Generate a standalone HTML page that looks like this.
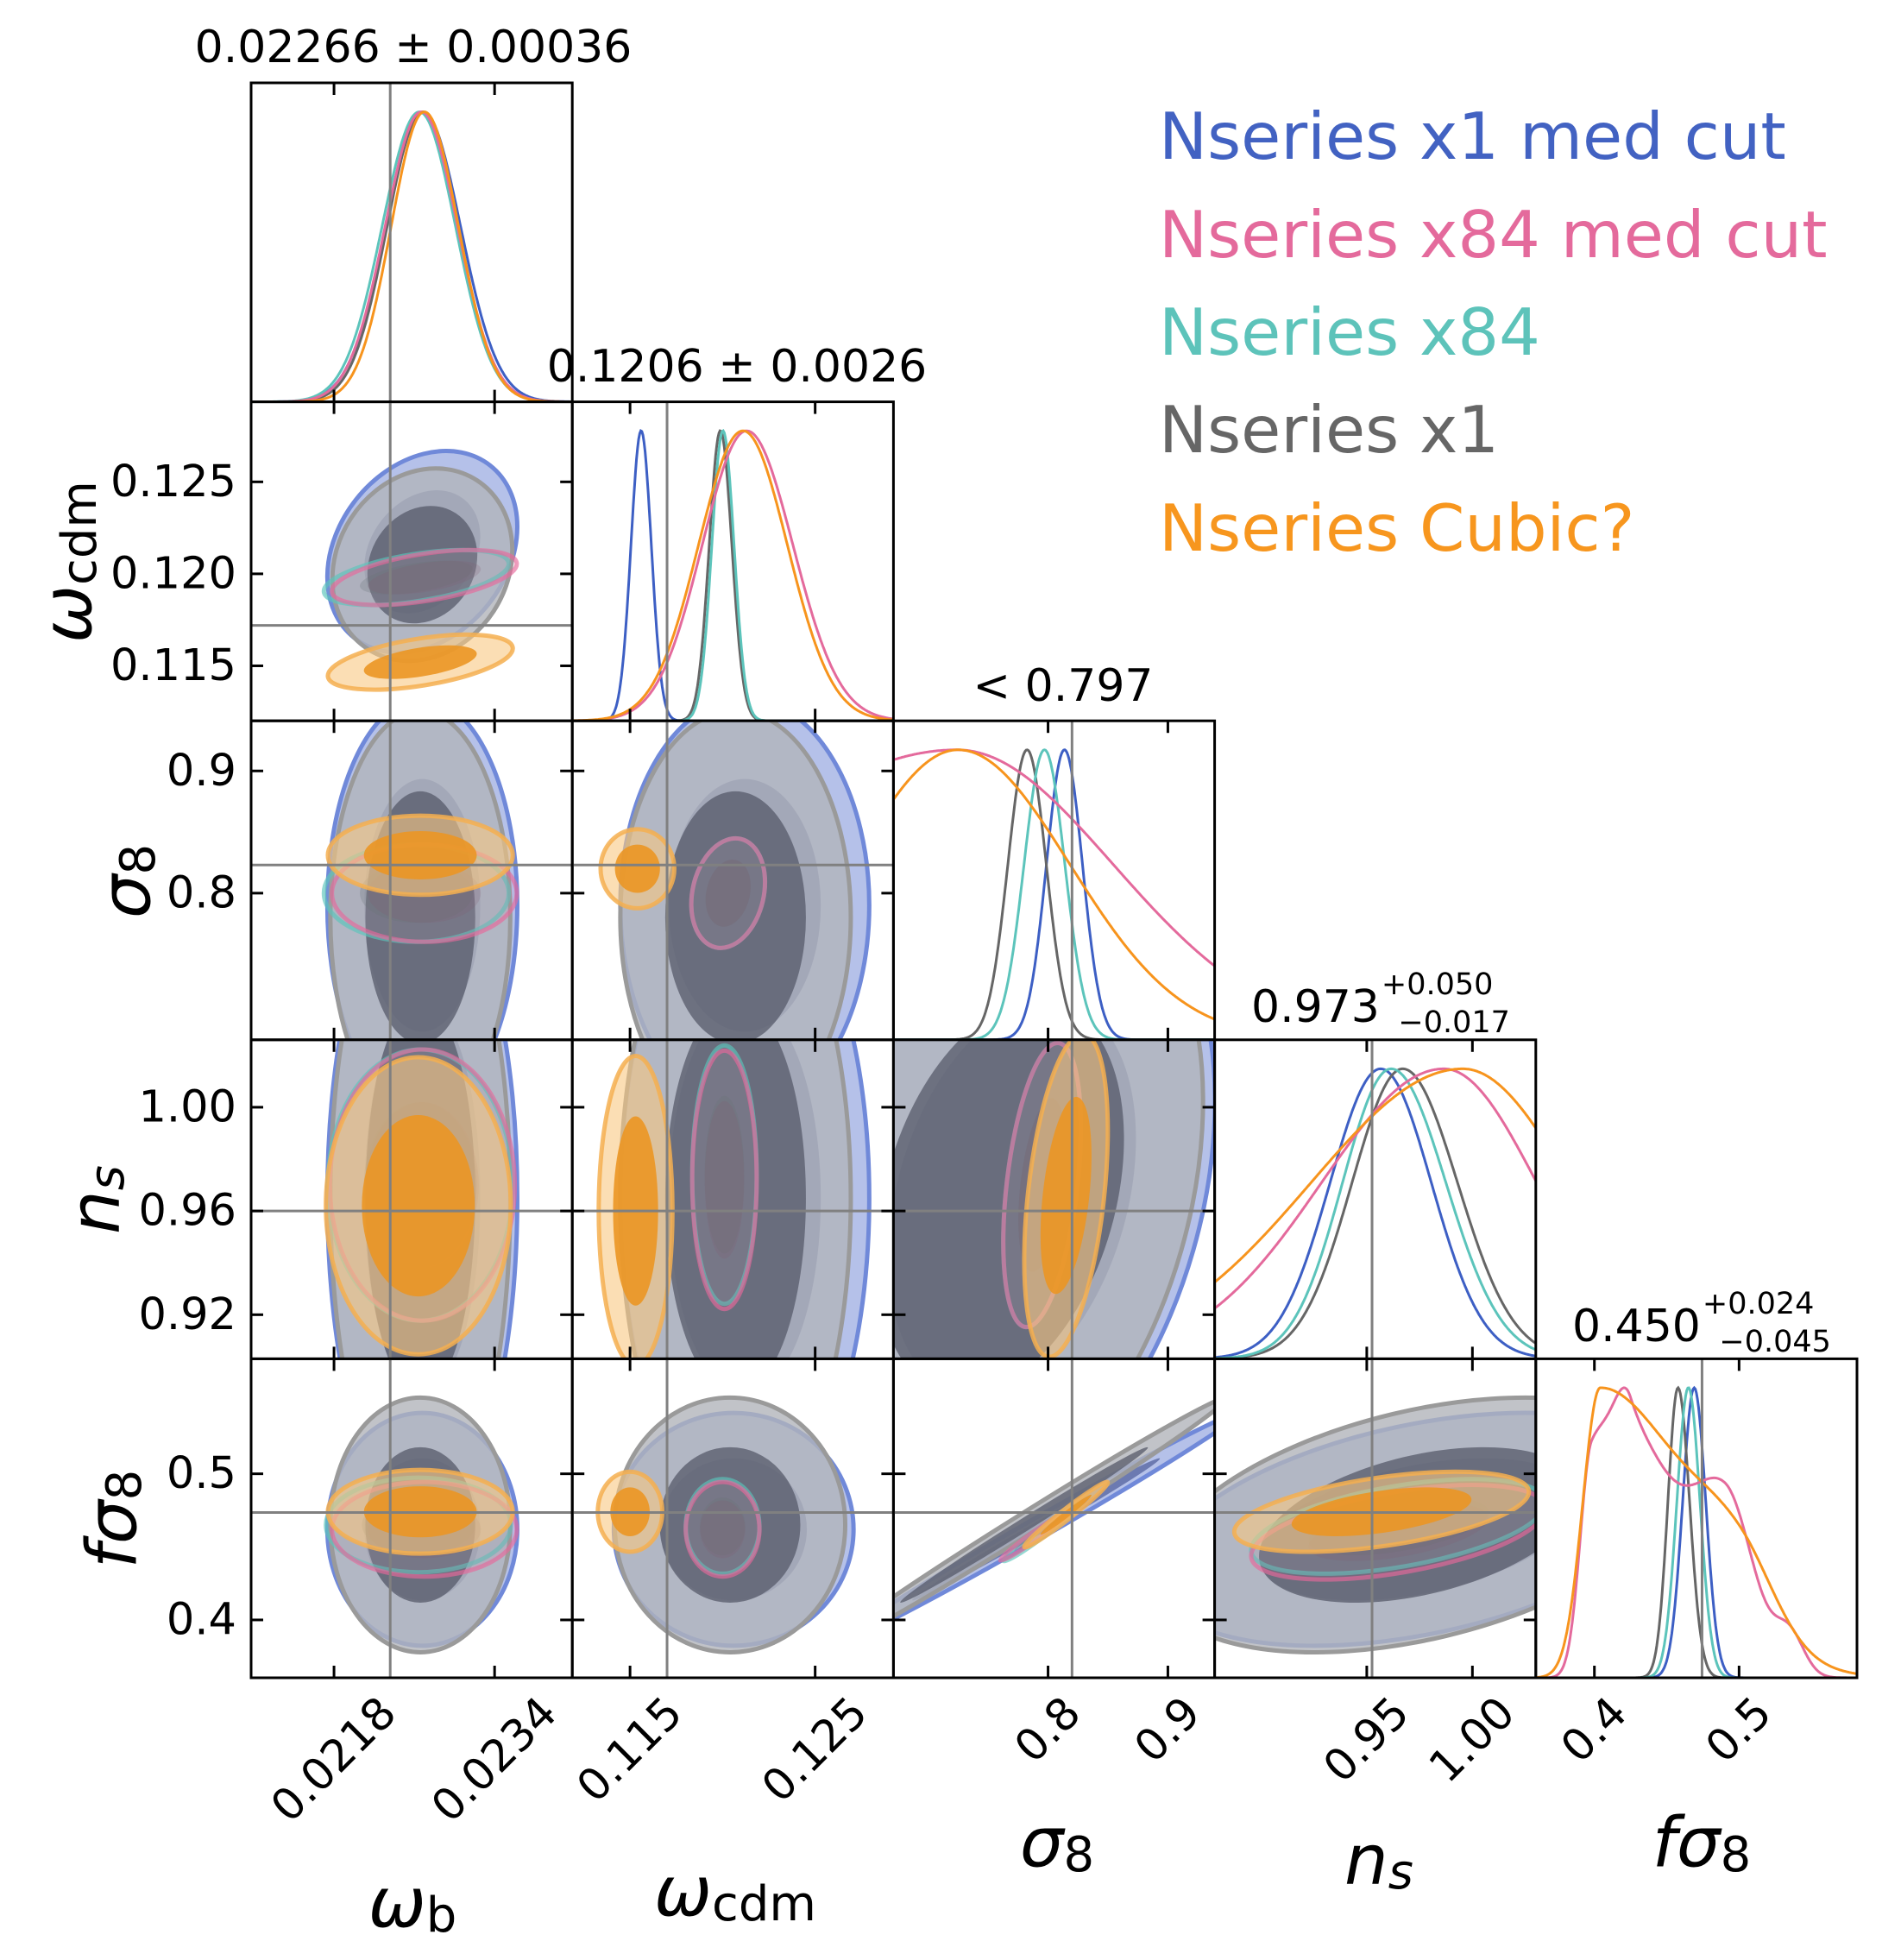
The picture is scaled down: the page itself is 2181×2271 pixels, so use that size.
<!DOCTYPE html>
<html><head><meta charset="utf-8">
<style>
html,body{margin:0;padding:0;background:#fff;}
svg{display:block;font-family:"DejaVu Sans","Liberation Sans",sans-serif;}
</style></head>
<body>
<svg id="fig" width="2181" height="2271" viewBox="0 0 2181 2271" xmlns="http://www.w3.org/2000/svg">
<rect width="2181" height="2271" fill="#fff"/>
<g id="legend" font-size="75">
<text x="1343" y="184" fill="#4262c2">Nseries x1 med cut</text>
<text x="1343" y="298" fill="#e46a9c">Nseries x84 med cut</text>
<text x="1343" y="411" fill="#5dc3ba">Nseries x84</text>
<text x="1343" y="524" fill="#666">Nseries x1</text>
<text x="1343" y="638" fill="#f7961e">Nseries Cubic?</text>
</g>
<g font-size="52">
<text x="479" y="72" text-anchor="middle">0.02266 ± 0.00036</text>
<text x="854" y="442" text-anchor="middle">0.1206 ± 0.0026</text>
<text x="1232" y="812" text-anchor="middle">&lt; 0.797</text>
<text x="1450" y="1184">0.973<tspan font-size="35" dx="2" dy="-32">+0.050</tspan><tspan font-size="35" dx="-110" dy="44">−0.017</tspan></text>
<text x="1822" y="1554">0.450<tspan font-size="35" dx="2" dy="-32">+0.024</tspan><tspan font-size="35" dx="-110" dy="44">−0.045</tspan></text>
</g>
<g id="plots"></g>
<g id="labels" font-style="italic" font-size="80"></g>
</svg>
<script>
const NS="http://www.w3.org/2000/svg";
// ---- data ----
const paramNames=["omega-b","omega-cdm","sigma8","ns","fsigma8"];
const xRanges=[[0.020974,0.024174],[0.11188,0.12923],[0.671,0.939],[0.878,1.030],[0.3595,0.5815]];
const yRanges=[[0.020974,0.024174],[0.11201,0.12935],[0.680,0.941],[0.903,1.026],[0.3604,0.5787]];
const xTicks=[[0.0218,0.0234],[0.115,0.125],[0.8,0.9],[0.95,1.00],[0.4,0.5]];
const xTickLabels=[["0.0218","0.0234"],["0.115","0.125"],["0.8","0.9"],["0.95","1.00"],["0.4","0.5"]];
const yTicks=[[],[0.115,0.120,0.125],[0.8,0.9],[0.92,0.96,1.00],[0.4,0.5]];
const yTickLabels=[[],["0.115","0.120","0.125"],["0.8","0.9"],["0.92","0.96","1.00"],["0.4","0.5"]];
const truthX=[0.02236,0.1170,0.82,0.9525,0.4744];
const truthY=[0.02236,0.1172,0.823,0.96,0.4735];
const seriesNames=["blue","gray","teal","pink","orange"];
// 1D marginals: components [mean, sdLeft, sdRight, amp]
const m1dBlue=[[[.02269,.00037,.00037,1]],[[.1156,.00055,.00055,1]],[[.8137,.015,.015,1]],[[.9566,.024,.024,1]],[[.469,.008,.008,1]]];
const m1dGray=[[[.02268,.00035,.00035,1]],[[.11988,.0006,.00062,1]],[[.7825,.016,.016,1]],[[.967,.024,.026,1]],[[.4578,.007,.008,1]]];
const m1dTeal=[[[.02265,.00037,.00036,1]],[[.12002,.0006,.0006,1]],[[.797,.017,.017,1]],[[.9615,.023,.026,1]],[[.465,.008,.008,1]]];
const m1dPink=[[[.02267,.00036,.00036,1]],[[.1213,.0024,.0025,1]],[[.724,.2,.13,1]],[[.9865,.058,.044,1]],[[.398,.008,.015,.85],[.425,.012,.028,.9],[.49,.025,.02,.7],[.535,.01,.01,.15]]];
const m1dOrange=[[[.02270,.00033,.00034,1]],[[.1211,.0024,.0024,1]],[[.725,.088,.093,1]],[[.9955,.072,.051,1]],[[.404,.012,.06,1],[.50,.03,.025,.25]]];
// 2D: key "row,col" -> per series [cx, cy, sx, sy, rho]
const c2dBlue={"1,0":[.02268,.1212,.00038,.0022,.25],"2,0":[.02268,.79,.00038,.068,0],"3,0":[.02268,.965,.00038,.05,0],"4,0":[.02268,.462,.00038,.032,0],"2,1":[.1212,.79,.0027,.068,0],"3,1":[.1212,.965,.0027,.05,0],"4,1":[.1206,.462,.0026,.032,0],"3,2":[.77,.965,.068,.05,.3],"4,2":[.79,.462,.068,.032,.995],"4,3":[.975,.462,.05,.032,.4]};
const c2dGray={"1,0":[.02268,.1205,.00036,.0021,.15],"2,0":[.02266,.78,.00036,.068,0],"3,0":[.02266,.965,.00036,.05,0],"4,0":[.02266,.465,.00036,.035,0],"2,1":[.1207,.78,.0025,.068,0],"3,1":[.1207,.965,.0025,.05,0],"4,1":[.1204,.465,.0025,.035,0],"3,2":[.76,.965,.068,.05,.3],"4,2":[.78,.465,.068,.035,.995],"4,3":[.975,.465,.05,.035,.4]};
const c2dTeal={"1,0":[.02262,.1198,.00037,.0006,.5],"2,0":[.02262,.80,.00037,.016,0],"3,0":[.02266,.97,.00037,.021,0],"4,0":[.02264,.465,.00037,.013,0],"2,1":[.1203,.80,.0008,.018,.2],"3,1":[.1201,.974,.0007,.02,0],"4,1":[.1200,.464,.0008,.013,0],"3,2":[.795,.97,.013,.022,.4],"4,2":[.795,.46,.013,.008,.98],"4,3":[.965,.464,.028,.013,.5]};
const c2dPink={"1,0":[.02270,.1198,.00037,.0006,.5],"2,0":[.02270,.80,.00037,.016,0],"3,0":[.02268,.97,.00037,.021,0],"4,0":[.02270,.462,.00037,.013,0],"2,1":[.1203,.80,.0008,.018,.2],"3,1":[.1201,.972,.0007,.02,0],"4,1":[.1200,.462,.0008,.013,0],"3,2":[.795,.97,.013,.022,.4],"4,2":[.79,.458,.012,.007,.98],"4,3":[.965,.460,.028,.013,.5]};
const c2dOrange={"1,0":[.02266,.1152,.00037,.0006,.5],"2,0":[.02266,.831,.00037,.013,0],"3,0":[.02264,.962,.00037,.023,0],"4,0":[.02266,.474,.00037,.0115,0],"2,1":[.1154,.82,.0008,.013,0],"3,1":[.1153,.96,.0008,.024,0],"4,1":[.1150,.474,.0007,.011,0],"3,2":[.815,.966,.014,.025,.4],"4,2":[.815,.472,.014,.009,.98],"4,3":[.957,.474,.028,.011,.5]};

const m1dAll=[m1dBlue,m1dGray,m1dTeal,m1dPink,m1dOrange];
const c2dAll=[c2dBlue,c2dGray,c2dTeal,c2dPink,c2dOrange];
const lineColors=["#3d5fc4","#666666","#5cc4bb","#e46a9c","#f7941d"];
const fill2=["rgba(120,142,215,0.55)","rgba(178,180,186,0.8)","rgba(120,200,190,0.15)","rgba(230,100,150,0.1)","rgba(248,200,130,0.6)"];
const fill1=["rgba(60,75,140,0.6)","rgba(85,90,105,0.75)","rgba(90,120,115,0.25)","rgba(130,90,110,0.2)","rgba(235,150,35,0.9)"];
const strokes=["#7089d9","#9a9a9a","rgba(90,196,187,0.65)","rgba(230,105,155,0.65)","rgba(245,175,80,0.85)"];

// ---- layout ----
const X0=291,Y0=96,W=372.2,H=369.6,TL=14;
const plots=document.getElementById('plots');
function el(t,a,p){const e=document.createElementNS(NS,t);for(const k in a)e.setAttribute(k,a[k]);(p||plots).appendChild(e);return e;}
function sx(c,v){const r=xRanges[c];return X0+c*W+(v-r[0])/(r[1]-r[0])*W;}
function sy(r,v){const q=yRanges[r];return Y0+r*H+H-(v-q[0])/(q[1]-q[0])*H;}

function ellipse(g,r,c,p,k,fill,stroke){
  const kx=W/(xRanges[c][1]-xRanges[c][0]), ky=H/(yRanges[r][1]-yRanges[r][0]);
  const a=p[2]*kx,b=p[3]*ky,cxy=-p[4]*a*b;
  const A=a*a,B=b*b,C=cxy;
  const tr=(A+B)/2,d=Math.sqrt(((A-B)/2)**2+C*C);
  const l1=tr+d,l2=Math.max(tr-d,0.01);
  const ang=Math.atan2(l1-A,C)*180/Math.PI;
  const angle=(Math.abs(C)<1e-9)?(A>=B?0:90):ang;
  const e=el('ellipse',{cx:sx(c,p[0]),cy:sy(r,p[1]),rx:k*Math.sqrt(l1),ry:k*Math.sqrt(l2),transform:`rotate(${angle} ${sx(c,p[0])} ${sy(r,p[1])})`,fill:fill,stroke:stroke||'none','stroke-width':stroke?5:0},g);
  return e;
}
function dens(comps,x){let s=0;for(const q of comps){const sd=x<q[0]?q[1]:q[2];s+=q[3]*Math.exp(-0.5*((x-q[0])/sd)**2);}return s;}

for(let r=0;r<5;r++){
  for(let c=0;c<=r;c++){
    const px=X0+c*W,py=Y0+r*H;
    const g=el('g',{});
    
    
    const cid='clip'+r+c;
    const cp=el('clipPath',{id:cid},g);el('rect',{x:px,y:py,width:W,height:H},cp);
    const inner=el('g',{'clip-path':`url(#${cid})`},g);
    if(r===c){
      for(let s=0;s<5;s++){
        const comps=m1dAll[s][c];const pts=[];let mx=0;const vals=[];
        for(let i=0;i<=300;i++){const v=xRanges[c][0]+(xRanges[c][1]-xRanges[c][0])*i/300;const d=dens(comps,v);vals.push([v,d]);mx=Math.max(mx,d);}
        for(const [v,d] of vals){pts.push(sx(c,v).toFixed(1)+','+(py+H-(d/mx)/1.1*H).toFixed(1));}
        const pl=el('polyline',{points:pts.join(' '),fill:'none',stroke:lineColors[s],'stroke-width':3},inner);
        
        
      }
      el('line',{x1:sx(c,truthX[c]),x2:sx(c,truthX[c]),y1:py,y2:py+H,stroke:'#808080','stroke-width':3},inner);
    } else {
      const key=r+','+c;
      for(let s=0;s<5;s++){
        const p=c2dAll[s][key];if(!p)continue;
        const e2=ellipse(inner,r,c,p,2.49,fill2[s],strokes[s]);
        
        
        const e1=ellipse(inner,r,c,p,1.52,fill1[s],null);
        
        
      }
      el('line',{x1:sx(c,truthX[c]),x2:sx(c,truthX[c]),y1:py,y2:py+H,stroke:'#808080','stroke-width':3},inner);
      el('line',{x1:px,x2:px+W,y1:sy(r,truthY[r]),y2:sy(r,truthY[r]),stroke:'#808080','stroke-width':3},inner);
      for(const t of yTicks[r]){const y=sy(r,t);
        el('line',{x1:px,x2:px+TL,y1:y,y2:y,stroke:'#000','stroke-width':3},g);
        el('line',{x1:px+W-TL,x2:px+W,y1:y,y2:y,stroke:'#000','stroke-width':3},g);}
    }
    for(const t of xTicks[c]){const x=sx(c,t);
      el('line',{x1:x,x2:x,y1:py+H-TL,y2:py+H,stroke:'#000','stroke-width':3},g);
      el('line',{x1:x,x2:x,y1:py,y2:py+TL,stroke:'#000','stroke-width':3},g);}
    el('rect',{x:px,y:py,width:W,height:H,fill:'none',stroke:'#000','stroke-width':3},g);
  }
  // y tick labels
  if(r>0){
    yTicks[r].forEach((t,i)=>{const tx=el('text',{x:274,y:sy(r,t),'text-anchor':'end','dominant-baseline':'central','font-size':51});
      tx.textContent=yTickLabels[r][i];
      
      });
  }
}
// x tick labels (rotated 45)
const yb=Y0+5*H;
for(let c=0;c<5;c++){
  xTicks[c].forEach((t,i)=>{
    const x=sx(c,t);
    const tx=el('text',{x:x,y:0,'text-anchor':'middle','dominant-baseline':'central','font-size':51});
    tx.textContent=xTickLabels[c][i];
    
    
    const w=tx.getComputedTextLength();
    const yc=yb+14+0.354*(w+51);
    tx.setAttribute('y',yc);
    tx.setAttribute('transform',`rotate(-45 ${x} ${yc})`);
  });
}
// axis labels
const labs=document.getElementById('labels');
function lab(name,html,x,y,rot){const t=el('text',{x:x,y:y,'text-anchor':'middle','dominant-baseline':'central'},labs);
  t.innerHTML=html;if(rot)t.setAttribute('transform',`rotate(-90 ${x} ${y})`);
  
  }
const sub=(s)=>`<tspan font-style="normal" font-size="56" dy="14">${s}</tspan>`;
const subi=(s)=>`<tspan font-size="56" dy="14">${s}</tspan>`;
lab('x-axis-title-omega-b','ω'+sub('b'),478,2205,false);
lab('x-axis-title-omega-cdm','ω'+sub('cdm'),852,2192,false);
lab('x-axis-title-sigma8','σ'+sub('8'),1225,2135,false);
lab('x-axis-title-ns','n'+subi('s'),1598,2155,false);
lab('x-axis-title-fsigma8','fσ'+sub('8'),1972,2135,false);
lab('y-axis-title-omega-cdm','ω'+sub('cdm'),78,651,true);
lab('y-axis-title-sigma8','σ'+sub('8'),146,1021,true);
lab('y-axis-title-ns','n'+subi('s'),110,1390,true);
lab('y-axis-title-fsigma8','fσ'+sub('8'),130,1760,true);
</script>
</body></html>
